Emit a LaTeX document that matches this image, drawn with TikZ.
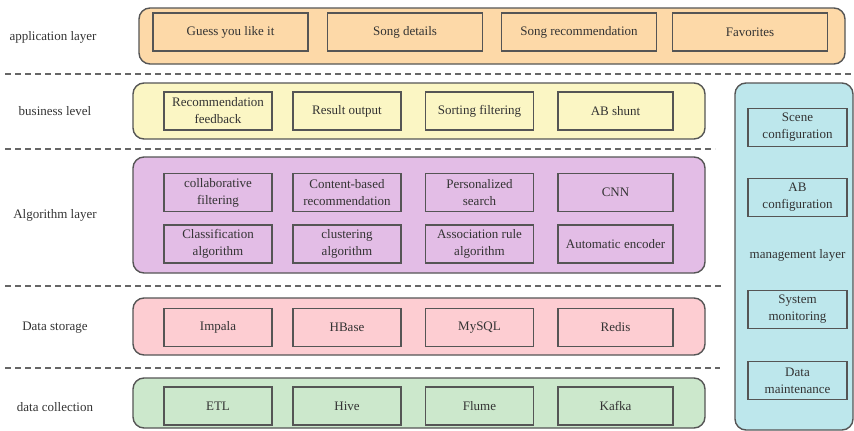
\documentclass[tikz,border=0pt]{standalone}
\usepackage{fontspec}
\setmainfont{Liberation Serif}
\definecolor{appfill}{HTML}{FDD9A8}
\definecolor{busfill}{HTML}{FBF6C4}
\definecolor{algfill}{HTML}{E3BDE6}
\definecolor{datfill}{HTML}{FDCDD2}
\definecolor{colfill}{HTML}{CCE8CC}
\definecolor{manfill}{HTML}{BDE7EC}
\definecolor{edge}{HTML}{555555}
\tikzset{
  layer/.style={draw=edge, line width=1.4pt, rounded corners=11pt},
  item/.style={draw=edge, line width=1.3pt, minimum width=108pt, minimum height=38pt,
    align=center, inner sep=1pt, font=\fontsize{13}{17}\selectfont, text=black!80},
  sep/.style={draw=black!60, line width=1.6pt, dash pattern=on 6pt off 4pt},
  lname/.style={font=\fontsize{13}{17}\selectfont, text=black!80}
}
\begin{document}
\begin{tikzpicture}[x=1pt,y=-1pt]
            \useasboundingbox (0,0) rectangle (854,431);

            % 分隔虚线
            \draw[sep] (5,74) -- (854,74);
            \draw[sep] (5,149) -- (715,149);
            \draw[sep] (5,286) -- (722,286);
            \draw[sep] (5,368) -- (720,368);

            % 各层底框
            \draw[layer, fill=appfill] (139,8) rectangle (845,64);
            \draw[layer, fill=busfill] (133,83) rectangle (705,139);
            \draw[layer, fill=algfill] (133,157) rectangle (705,273);
            \draw[layer, fill=datfill] (133,298) rectangle (705,355);
            \draw[layer, fill=colfill] (133,378) rectangle (705,428);
            \draw[layer, fill=manfill] (735,83) rectangle (853,430);

            % 左侧层名
            \node[lname] (appname) at (53,37) {application layer};
            \node[lname] (busname) at (55,111) {business level};
            \node[lname] (algname) at (55,215) {Algorithm layer};
            \node[lname] (datname) at (55,328) {Data storage};
            \node[lname] (colname) at (55,407) {data collection};

            % 应用层
            \node[item, fill=appfill, minimum width=155pt] (guess) at (230.5,32) {Guess you like it};
            \node[item, fill=appfill, minimum width=155pt] (details) at (405,32) {Song details};
            \node[item, fill=appfill, minimum width=155pt] (songrec) at (579,32) {Song recommendation};
            \node[item, fill=appfill, minimum width=155pt] (favorites) at (750,32) {Favorites};

            % 业务层
            \node[item, fill=busfill] (feedback) at (218,111) {Recommendation\\feedback};
            \node[item, fill=busfill] (result) at (347,111) {Result output};
            \node[item, fill=busfill] (sorting) at (479.5,111) {Sorting filtering};
            \node[item, fill=busfill, minimum width=115pt] (shunt) at (615.5,111) {AB shunt};

            % 算法层
            \node[item, fill=algfill] (collab) at (218,192.5) {collaborative\\filtering};
            \node[item, fill=algfill] (content) at (347,192.5) {Content-based\\recommendation};
            \node[item, fill=algfill] (search) at (479.5,192.5) {Personalized\\search};
            \node[item, fill=algfill, minimum width=115pt] (cnn) at (615.5,192.5) {CNN};
            \node[item, fill=algfill] (classif) at (218,244) {Classification\\algorithm};
            \node[item, fill=algfill] (cluster) at (347,244) {clustering\\algorithm};
            \node[item, fill=algfill] (assoc) at (479.5,244) {Association rule\\algorithm};
            \node[item, fill=algfill, minimum width=115pt] (encoder) at (615.5,244) {Automatic encoder};

            % 数据存储
            \node[item, fill=datfill] (impala) at (218,327.5) {Impala};
            \node[item, fill=datfill] (hbase) at (347,327.5) {HBase};
            \node[item, fill=datfill] (mysql) at (479.5,327.5) {MySQL};
            \node[item, fill=datfill, minimum width=115pt] (redis) at (615.5,327.5) {Redis};

            % 数据采集
            \node[item, fill=colfill] (etl) at (218,406) {ETL};
            \node[item, fill=colfill] (hive) at (347,406) {Hive};
            \node[item, fill=colfill] (flume) at (479.5,406) {Flume};
            \node[item, fill=colfill, minimum width=115pt] (kafka) at (615.5,406) {Kafka};

            % 管理层
            \node[item, fill=manfill, minimum width=99pt] (scene) at (797.5,127.5) {Scene\\configuration};
            \node[item, fill=manfill, minimum width=99pt] (abconf) at (797.5,197.5) {AB\\configuration};
            \node[lname] (manname) at (797.5,255) {management layer};
            \node[item, fill=manfill, minimum width=99pt] (monitor) at (797.5,309.5) {System\\monitoring};
            \node[item, fill=manfill, minimum width=99pt] (maint) at (797.5,380.5) {Data\\maintenance};
        \end{tikzpicture}
\end{document}
